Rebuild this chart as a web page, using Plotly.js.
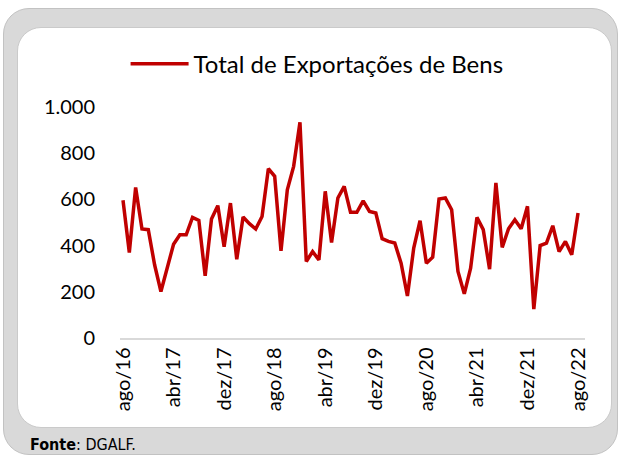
<!DOCTYPE html>
<html><head><meta charset="utf-8">
<script src="https://cdn.plot.ly/plotly-3.0.1.min.js"></script>
<style>
html,body{margin:0;padding:0;background:#fff;width:621px;height:457px;overflow:hidden}
#wrap{position:relative;width:621px;height:457px}
#outer{position:absolute;left:3px;top:8px;width:615px;height:447px;background:#d9d9d9;border:1.5px solid #c2c2c2;border-radius:26px;box-sizing:border-box}
#inner{position:absolute;left:17px;top:27px;width:595px;height:401px;background:#fff;border-radius:24px;border:1.5px solid #cacaca;box-sizing:border-box}
#chart{position:absolute;left:0;top:0;width:621px;height:457px}
</style></head>
<body>
<div id="wrap"><div id="outer"></div><div id="inner"></div><div id="chart"></div></div>
<script>
const monthNames = ['jan','fev','mar','abr','mai','jun','jul','ago','set','out','nov','dez'];
const startYear = 16, startMonth = 7, nMonths = 73;
const categories = [];
for (let i = 0; i < nMonths; i++) {
  const m = (startMonth + i) % 12;
  const y = startYear + Math.floor((startMonth + i) / 12);
  categories.push(monthNames[m] + '/' + y);
}
const seriesName = 'Total de Exportações de Bens';
const exportValues = [
  596, 370, 652, 472, 469, 317, 201, 304, 406, 447, 447, 522,
  509, 269, 515, 573, 395, 584, 341, 524, 495, 472, 526, 733,
  700, 377, 642, 743, 934, 331, 374, 338, 635, 413, 606, 656,
  544, 544, 594, 548, 541, 430, 418, 411, 324, 182, 389, 508,
  324, 350, 602, 606, 555, 288, 191, 302, 522, 469, 298, 671,
  392, 473, 512, 473, 570, 125, 400, 411, 486, 374, 418, 360,
  541
];
const tickLabels = ['ago/16','abr/17','dez/17','ago/18','abr/19','dez/19','ago/20','abr/21','dez/21','ago/22'];
const yTicks = [0, 200, 400, 600, 800, 1000];

const fontFam = 'Lato, "Open Sans", sans-serif';
const trace = {
  x: categories, y: exportValues, type: 'scatter', mode: 'lines',
  name: seriesName,
  line: {color: '#c00000', width: 3.5}
};
const layout = {
  width: 621, height: 457,
  margin: {l: 120, r: 36, t: 107, b: 119},
  paper_bgcolor: 'rgba(0,0,0,0)', plot_bgcolor: 'rgba(0,0,0,0)',
  separators: ',.',
  showlegend: true,
  legend: {
    orientation: 'h', x: 0.012, xanchor: 'left', y: 1.186, yanchor: 'middle',
    font: {family: fontFam, size: 24, color: '#000'},
    bgcolor: 'rgba(0,0,0,0)', itemwidth: 58
  },
  xaxis: {
    type: 'category', range: [-0.475, 73.1],
    tickvals: tickLabels, ticktext: tickLabels, tickangle: -90,
    ticks: '', ticklen: 0,
    showgrid: false, zeroline: false,
    showline: true, linecolor: '#d9d9d9', linewidth: 1.5,
    tickfont: {family: fontFam, size: 20, color: '#000'}
  },
  yaxis: {
    range: [0, 1000], tickvals: yTicks, tickformat: ',d',
    ticks: 'outside', ticklen: 20, tickcolor: 'rgba(0,0,0,0)',
    showgrid: false, zeroline: false, showline: false,
    tickfont: {family: fontFam, size: 20, color: '#000'}
  },
  annotations: [{
    text: '<b>Fonte</b>: DGALF.', xref: 'paper', yref: 'paper',
    x: -0.198, y: -0.463, xanchor: 'left', yanchor: 'middle', showarrow: false,
    font: {family: '"DejaVu Sans Condensed", "Liberation Sans Narrow", sans-serif', size: 16, color: '#000'}
  }]
};
Plotly.newPlot('chart', [trace], layout, {displayModeBar: false, staticPlot: true});
</script>
</body></html>
